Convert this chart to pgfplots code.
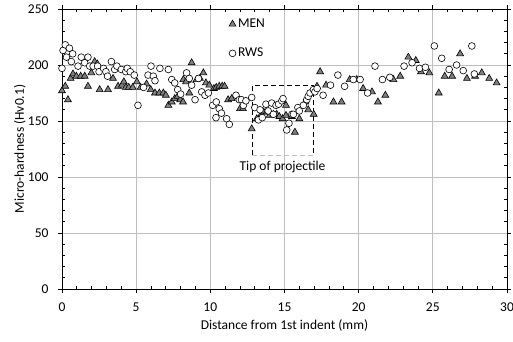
\documentclass[border=0pt]{standalone}
\usepackage{fontspec}
\setmainfont{Carlito}
\usepackage{pgfplots}
\pgfplotsset{compat=1.18}
\definecolor{gridgray}{RGB}{191,191,191}
\definecolor{trigray}{RGB}{128,128,128}
\begin{document}
\begin{tikzpicture}[font=\fontsize{13.5}{16}\selectfont]
\useasboundingbox (-62pt,-52pt) rectangle (451pt,289pt);
\begin{axis}[
  scale only axis, width=445pt, height=280pt,
  at={(0,0)}, anchor=south west,
  xmin=0, xmax=30, ymin=0, ymax=250,
  xtick={0,5,...,30}, ytick={0,50,...,250},
  minor x tick num=4, minor y tick num=4,
  tick align=outside, major tick length=4pt, minor tick length=-3pt,
  grid=major, major grid style={color=gridgray, line width=1pt},
  axis line style={line width=0.8pt},
  tick style={black, line width=0.8pt},
  /pgf/number format/assume math mode=true,
  yticklabel style={xshift=-6pt},
  xticklabel style={yshift=-6pt},
  xlabel={Distance from 1st indent (mm)},
  ylabel={Micro-hardness (Hv0.1)},
  xlabel style={at={(axis description cs:0.5,-0.1286)}, anchor=center},
  ylabel style={at={(axis description cs:-0.0944,0.5)}, anchor=center},
  legend style={at={(rel axis cs:0.375,0.972)}, anchor=north west, draw=none, fill=none,
    inner sep=0pt, row sep=15pt, cells={anchor=west}},
  legend image code/.code={\draw[#1,only marks] plot coordinates {(0pt,0pt)};},
]
\addplot[only marks, mark=triangle*, mark size=4pt, mark options={fill=trigray, draw=black, line width=0.6pt}] coordinates {
(0.0,177) (0.22,181) (0.4,169) (0.58,188) (0.74,192) (0.97,190) (1.26,190) (1.53,190)
(1.75,181) (1.98,193) (2.2,203) (2.38,201) (2.54,178) (3.1,178) (3.44,188) (3.78,181)
(4.04,182) (4.17,185) (4.3,180) (4.5,180) (4.77,180) (5.05,185) (5.3,180) (5.7,183)
(5.98,178) (6.27,175) (6.56,175) (6.83,175) (7.0,173) (7.17,164) (7.4,167) (7.6,170)
(7.8,172) (7.97,169) (8.16,167) (8.18,187) (8.36,185) (8.58,175) (8.74,202) (9.08,187)
(9.3,188) (9.53,193) (9.7,184) (9.93,182) (10.24,179) (10.4,180) (10.6,181) (10.8,181)
(10.96,181) (11.2,169) (11.44,170) (12.0,161) (12.2,161) (12.79,143) (13.13,152) (13.35,154)
(13.6,158) (13.8,158) (14.0,155) (14.25,156) (14.47,156) (14.65,154) (14.87,152) (15.1,164)
(15.1,155) (15.5,154) (15.7,140) (16.0,152) (16.4,167) (16.6,160) (16.84,176) (16.97,156)
(17.19,181) (17.4,194) (17.8,182) (18.3,167) (18.85,167) (19.4,187) (19.87,187) (20.3,179)
(20.9,176) (21.3,167) (21.8,173) (22.34,187) (22.8,190) (23.35,207) (23.85,204) (24.2,194)
(24.76,193) (25.4,175) (25.8,190) (26.3,190) (26.84,210) (27.3,188) (27.85,190) (28.3,193)
(28.8,188) (29.3,184)
};
\addlegendentry{MEN}
\addplot[only marks, mark=*, mark size=3.4pt, mark options={fill=white, draw=black, line width=0.6pt}] coordinates {
(0.0,197) (0.07,213) (0.22,218) (0.3,207) (0.5,215) (0.63,203) (0.72,210) (1.08,199)
(1.3,207) (1.53,202) (1.75,207) (1.87,199) (2.1,199) (2.4,199) (2.5,194) (2.8,197)
(2.96,194) (3.07,190) (3.33,203) (3.55,196) (3.7,199) (4.0,196) (4.3,194) (4.4,197)
(4.6,194) (4.87,191) (5.12,164) (5.5,180) (5.8,191) (6.0,199) (6.16,190) (6.27,186)
(6.6,197) (7.17,196) (7.4,187) (7.6,184) (7.8,178) (8.0,174) (8.4,193) (8.58,188)
(8.74,182) (8.97,169) (9.2,188) (9.42,176) (9.64,173) (9.87,175) (10.16,164) (10.38,153)
(10.4,167) (10.6,161) (10.75,157) (11.1,152) (11.28,147) (11.73,173) (11.95,169) (12.1,169)
(12.23,164) (12.4,168) (12.79,171) (13.0,162) (13.24,151) (13.35,160) (13.5,153) (13.75,165)
(13.9,159) (14.14,166) (14.25,156) (14.43,164) (14.6,165) (14.82,168) (14.9,170) (15.15,142)
(15.3,148) (15.5,156) (15.6,156) (15.9,162) (16.0,159) (16.27,164) (16.5,169) (16.6,172)
(16.72,175) (16.95,178) (17.05,176) (17.2,179) (17.6,173) (18.1,182) (18.6,191) (19.05,181)
(19.64,187) (20.1,187) (20.6,175) (21.1,199) (21.6,187) (22.1,189) (23.06,199) (23.6,202)
(24.1,197) (24.5,198) (25.1,217) (25.6,206) (26.1,196) (26.6,200) (27.05,195) (27.63,217)
(27.8,192)
};
\addlegendentry{RWS}
\draw[black, line width=0.9pt, dash pattern=on 5pt off 3pt] (axis cs:12.81,119.6) -- (axis cs:12.81,181.3) -- (axis cs:16.93,181.3) -- (axis cs:16.93,119.6);
\draw[gridgray, line width=0.9pt, dash pattern=on 5pt off 3pt] (axis cs:12.81,119.6) -- (axis cs:16.93,119.6);
\node at (axis cs:14.87,109) {Tip of projectile};
\end{axis}
\end{tikzpicture}
\end{document}
